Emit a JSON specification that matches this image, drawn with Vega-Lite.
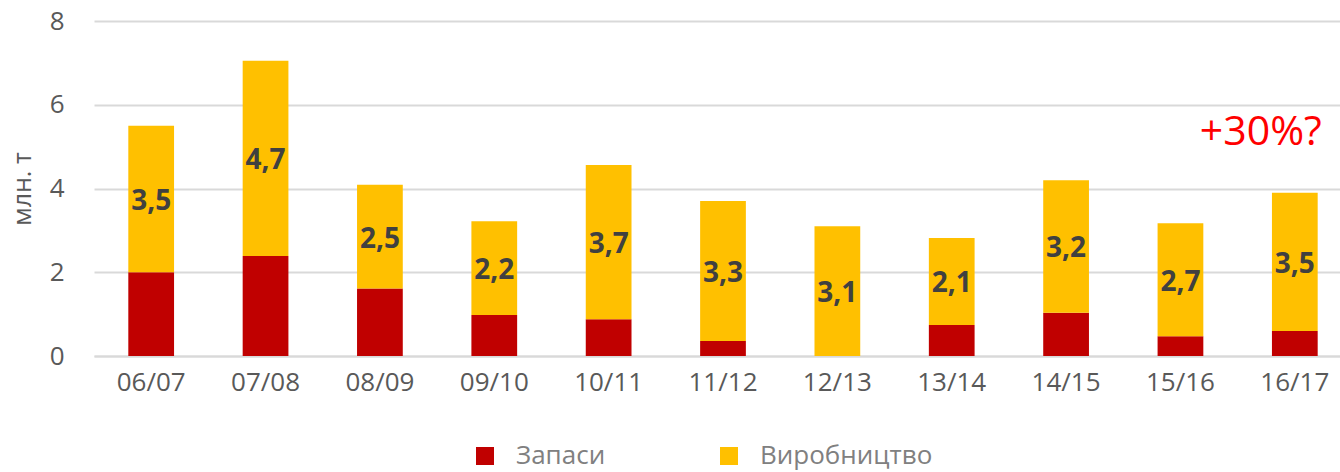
{
  "$schema": "https://vega.github.io/schema/vega-lite/v6.json",
  "width": 1258,
  "height": 335,
  "autosize": {"type": "none"},
  "padding": {"left": 94, "top": 21, "right": 0, "bottom": 116},
  "background": "white",
  "config": {
    "font": "Open Sans",
    "view": {"stroke": null},
    "axisY": {
      "titleFontSize": 25,
      "titleFontWeight": "normal",
      "titleColor": "#595959",
      "titlePadding": 14,
      "labelFontSize": 26,
      "labelColor": "#595959",
      "labelPadding": 30,
      "ticks": false,
      "domain": false,
      "gridColor": "#d9d9d9",
      "gridWidth": 2
    },
    "axisX": {
      "labelAngle": 0,
      "labelFontSize": 26,
      "labelColor": "#595959",
      "labelPadding": 13,
      "ticks": false,
      "domain": true,
      "domainColor": "#d9d9d9",
      "domainWidth": 2
    }
  },
  "data": {
    "values": [
      {"season": "06/07", "series": "Запаси", "ord": 1, "value": 2.0, "label": ""},
      {"season": "06/07", "series": "Виробництво", "ord": 2, "value": 3.5, "label": "3,5"},
      {"season": "07/08", "series": "Запаси", "ord": 1, "value": 2.39, "label": ""},
      {"season": "07/08", "series": "Виробництво", "ord": 2, "value": 4.66, "label": "4,7"},
      {"season": "08/09", "series": "Запаси", "ord": 1, "value": 1.61, "label": ""},
      {"season": "08/09", "series": "Виробництво", "ord": 2, "value": 2.48, "label": "2,5"},
      {"season": "09/10", "series": "Запаси", "ord": 1, "value": 0.98, "label": ""},
      {"season": "09/10", "series": "Виробництво", "ord": 2, "value": 2.24, "label": "2,2"},
      {"season": "10/11", "series": "Запаси", "ord": 1, "value": 0.88, "label": ""},
      {"season": "10/11", "series": "Виробництво", "ord": 2, "value": 3.68, "label": "3,7"},
      {"season": "11/12", "series": "Запаси", "ord": 1, "value": 0.36, "label": ""},
      {"season": "11/12", "series": "Виробництво", "ord": 2, "value": 3.34, "label": "3,3"},
      {"season": "12/13", "series": "Запаси", "ord": 1, "value": 0.0, "label": ""},
      {"season": "12/13", "series": "Виробництво", "ord": 2, "value": 3.1, "label": "3,1"},
      {"season": "13/14", "series": "Запаси", "ord": 1, "value": 0.74, "label": ""},
      {"season": "13/14", "series": "Виробництво", "ord": 2, "value": 2.08, "label": "2,1"},
      {"season": "14/15", "series": "Запаси", "ord": 1, "value": 1.03, "label": ""},
      {"season": "14/15", "series": "Виробництво", "ord": 2, "value": 3.17, "label": "3,2"},
      {"season": "15/16", "series": "Запаси", "ord": 1, "value": 0.47, "label": ""},
      {"season": "15/16", "series": "Виробництво", "ord": 2, "value": 2.7, "label": "2,7"},
      {"season": "16/17", "series": "Запаси", "ord": 1, "value": 0.6, "label": ""},
      {"season": "16/17", "series": "Виробництво", "ord": 2, "value": 3.3, "label": "3,5"}
    ]
  },
  "encoding": {
    "x": {
      "field": "season",
      "type": "nominal",
      "sort": null,
      "scale": {"paddingInner": 0.6, "paddingOuter": 0.3},
      "axis": {"title": null}
    }
  },
  "layer": [
    {
      "mark": {"type": "bar"},
      "encoding": {
        "y": {
          "field": "value",
          "type": "quantitative",
          "stack": "zero",
          "scale": {"domain": [0, 8]},
          "axis": {"title": "млн. т", "values": [0, 2, 4, 6, 8]}
        },
        "color": {
          "field": "series",
          "type": "nominal",
          "scale": {"domain": ["Запаси", "Виробництво"], "range": ["#C00000", "#FFC000"]},
          "legend": {
            "title": null,
            "orient": "none",
            "legendX": 378,
            "legendY": 422,
            "direction": "horizontal",
            "symbolType": "square",
            "symbolSize": 324,
            "symbolStrokeWidth": 0,
            "labelFontSize": 26,
            "labelColor": "#808080",
            "labelOffset": 18,
            "labelLimit": 400,
            "columnPadding": 110
          }
        },
        "order": {"field": "ord", "type": "quantitative"}
      }
    },
    {
      "transform": [
        {"stack": "value", "groupby": ["season"], "sort": [{"field": "ord"}], "as": ["v0", "v1"]},
        {"calculate": "(datum.v0 + datum.v1) / 2", "as": "vmid"}
      ],
      "mark": {"type": "text", "fontSize": 28, "fontWeight": "bold", "color": "#404040", "baseline": "middle", "dy": 3},
      "encoding": {
        "y": {"field": "vmid", "type": "quantitative"},
        "text": {"field": "label"}
      }
    },
    {
      "data": {"values": [{"season": "16/17", "y": 5.33, "note": "+30%?"}]},
      "mark": {"type": "text", "fontSize": 41, "color": "#FF0000", "baseline": "middle", "align": "center", "dx": -34},
      "encoding": {
        "y": {"field": "y", "type": "quantitative"},
        "text": {"field": "note"}
      }
    }
  ]
}
